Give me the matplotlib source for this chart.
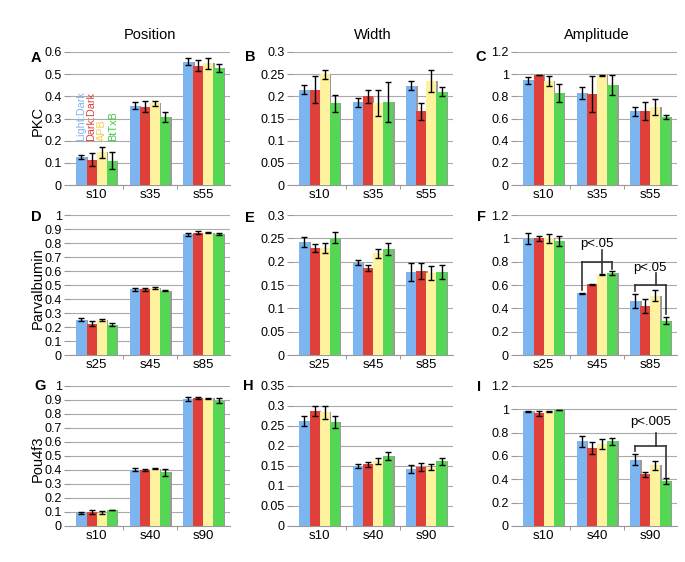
import numpy as np
import matplotlib.pyplot as plt
from matplotlib.ticker import FuncFormatter

plt.rcParams['font.family'] = ['Liberation Sans', 'DejaVu Sans']

groups = ["Light:Dark", "Dark:Dark", "APB", "BtTxB"]
colors = ["#7DB5F0", "#E0403A", "#FFF29E", "#55D655"]

col_titles = ["Position", "Width", "Amplitude"]
row_labels = ["PKC", "Parvalbumin", "Pou4f3"]
letters = ["A", "B", "C", "D", "E", "F", "G", "H", "I"]

cats_pkc = ["s10", "s35", "s55"]
cats_parv = ["s25", "s45", "s85"]
cats_pou = ["s10", "s40", "s90"]

# values [category][group], errors likewise
pkc_pos = [[0.127, 0.114, 0.147, 0.110], [0.358, 0.353, 0.368, 0.307], [0.557, 0.538, 0.550, 0.528]]
pkc_pos_err = [[0.010, 0.030, 0.025, 0.040], [0.015, 0.025, 0.012, 0.022], [0.015, 0.025, 0.025, 0.020]]
pkc_wid = [[0.215, 0.215, 0.250, 0.184], [0.187, 0.200, 0.185, 0.187], [0.224, 0.166, 0.234, 0.210]]
pkc_wid_err = [[0.010, 0.030, 0.010, 0.020], [0.010, 0.015, 0.030, 0.045], [0.010, 0.020, 0.025, 0.010]]
pkc_amp = [[0.943, 0.994, 0.940, 0.830], [0.830, 0.820, 0.990, 0.900], [0.665, 0.665, 0.705, 0.615]]
pkc_amp_err = [[0.030, 0.000, 0.045, 0.080], [0.050, 0.160, 0.005, 0.090], [0.040, 0.080, 0.070, 0.015]]

parv_pos = [[0.253, 0.224, 0.248, 0.217], [0.470, 0.470, 0.477, 0.460], [0.863, 0.875, 0.875, 0.863]]
parv_pos_err = [[0.012, 0.020, 0.008, 0.010], [0.010, 0.012, 0.008, 0.006], [0.012, 0.012, 0.007, 0.006]]
parv_wid = [[0.242, 0.229, 0.229, 0.251], [0.198, 0.187, 0.218, 0.228], [0.178, 0.180, 0.175, 0.178]]
parv_wid_err = [[0.010, 0.008, 0.010, 0.012], [0.005, 0.006, 0.010, 0.013], [0.020, 0.018, 0.015, 0.015]]
parv_amp = [[0.998, 1.000, 1.000, 0.978], [0.530, 0.607, 0.688, 0.702], [0.466, 0.423, 0.510, 0.294]]
parv_amp_err = [[0.050, 0.020, 0.040, 0.045], [0.003, 0.003, 0.005, 0.020], [0.060, 0.060, 0.050, 0.030]]

pou_pos = [[0.095, 0.102, 0.095, 0.114], [0.403, 0.398, 0.410, 0.384], [0.905, 0.917, 0.912, 0.896]]
pou_pos_err = [[0.008, 0.015, 0.010, 0.003], [0.010, 0.006, 0.006, 0.025], [0.015, 0.008, 0.005, 0.020]]
pou_wid = [[0.262, 0.288, 0.284, 0.261], [0.151, 0.154, 0.162, 0.175], [0.143, 0.147, 0.147, 0.162]]
pou_wid_err = [[0.012, 0.013, 0.017, 0.015], [0.005, 0.007, 0.008, 0.010], [0.010, 0.010, 0.008, 0.009]]
pou_amp = [[0.985, 0.965, 0.985, 0.994], [0.725, 0.667, 0.702, 0.725], [0.570, 0.444, 0.520, 0.386]]
pou_amp_err = [[0.005, 0.020, 0.005, 0.000], [0.050, 0.050, 0.040, 0.030], [0.050, 0.020, 0.040, 0.025]]

panels = [
    (cats_pkc, pkc_pos, pkc_pos_err, 0.6, 0.1),
    (cats_pkc, pkc_wid, pkc_wid_err, 0.3, 0.05),
    (cats_pkc, pkc_amp, pkc_amp_err, 1.2, 0.2),
    (cats_parv, parv_pos, parv_pos_err, 1.0, 0.1),
    (cats_parv, parv_wid, parv_wid_err, 0.3, 0.05),
    (cats_parv, parv_amp, parv_amp_err, 1.2, 0.2),
    (cats_pou, pou_pos, pou_pos_err, 1.0, 0.1),
    (cats_pou, pou_wid, pou_wid_err, 0.35, 0.05),
    (cats_pou, pou_amp, pou_amp_err, 1.2, 0.2),
]

W, H = 685, 562
col_x = [70, 293, 517]
col_w = 160
row_box = [(52, 185), (215, 355), (386, 526)]
# panel letter positions in pixels
letter_xy = [(36, 58), (250, 57), (481, 57), (36, 217), (250, 218), (481, 217),
             (40, 386), (248, 386), (479, 387)]

fig = plt.figure(figsize=(W / 100, H / 100), dpi=100)
bw = 0.19
axes = []
for k, (cats, vals, errs, ymax, step) in enumerate(panels):
    r, c = divmod(k, 3)
    top, bot = row_box[r]
    ax = fig.add_axes([col_x[c] / W, 1 - bot / H, col_w / W, (bot - top) / H])
    axes.append(ax)
    vals = np.array(vals)
    errs = np.array(errs)
    x = np.arange(len(cats))
    for g in range(4):
        xs = x + (g - 1.5) * bw
        ax.bar(xs + 0.025, vals[:, g], bw, color="#9a9a9a", zorder=2)
        ax.bar(xs, vals[:, g], bw, color=colors[g], zorder=3)
        ax.errorbar(xs, vals[:, g], yerr=errs[:, g], fmt="none", ecolor="black",
                    elinewidth=1, capsize=2.5, capthick=1, zorder=4)
    ax.set_xlim(-0.5, len(cats) - 0.5)
    ax.set_ylim(0, ymax)
    ax.set_yticks(np.arange(0, ymax + step / 2, step))
    ax.yaxis.set_major_formatter(FuncFormatter(lambda v, p: "%g" % round(v, 3)))
    ax.set_xticks(x)
    ax.set_xticklabels(cats)
    ax.set_xticks([0.5, 1.5], minor=True)
    ax.tick_params(axis="x", which="major", length=0, labelsize=9.5, pad=3)
    ax.tick_params(axis="x", which="minor", length=3, color="#888888")
    ax.tick_params(axis="y", length=4, color="#999999", labelsize=9, pad=2)
    ax.grid(axis="y", color="#aaaaaa", linewidth=0.8, zorder=0)
    for s in ["top", "right", "left"]:
        ax.spines[s].set_visible(False)
    ax.spines["bottom"].set_color("#999999")
    ax.set_axisbelow(True)
    lx, ly = letter_xy[k]
    fig.text(lx / W, 1 - ly / H, letters[k], fontsize=10.5, fontweight="bold",
             ha="center", va="center")

for c in range(3):
    fig.text((col_x[c] + col_w / 2) / W, 1 - 35 / H, col_titles[c], ha="center", va="center", fontsize=10.5)
for r in range(3):
    top, bot = row_box[r]
    fig.text(38 / W, 1 - ((top + bot) / 2 + 3) / H, row_labels[r], rotation=90,
             ha="center", va="center", fontsize=10.5)

# legend written vertically in panel A
ax = axes[0]
legend_colors = ["#7DB5F0", "#E0403A", "#F2D24A", "#3FC83F"]
for g in range(4):
    ax.text(0 + (g - 1.5) * 0.2, 0.2, groups[g], color=legend_colors[g],
            rotation=90, ha="center", va="bottom", fontsize=7.8, zorder=5)


def bracket(ax, cat, drops, yline, ystem, label, ylabel):
    xs = [cat + (g - 1.5) * bw for g in range(4)]
    ax.plot([xs[0], xs[3]], [yline, yline], color="#333333", lw=1.2, zorder=5, clip_on=False)
    for g, yd in drops:
        ax.plot([xs[g], xs[g]], [yline, yd], color="#333333", lw=1.2, zorder=5)
    ax.plot([cat + 0.1, cat + 0.1], [yline, ystem], color="#333333", lw=1.2, zorder=5)
    ax.text(cat, ylabel, label, ha="center", va="center", fontsize=9.5, zorder=5)


bracket(axes[5], 1, [(0, 0.56), (2, 0.70), (3, 0.74)], 0.80, 0.9, "p<.05", 0.95)
bracket(axes[5], 2, [(0, 0.55), (3, 0.35)], 0.60, 0.70, "p<.05", 0.75)
bracket(axes[8], 2, [(0, 0.64), (3, 0.42)], 0.69, 0.80, "p<.005", 0.89)

fig.savefig("out.png", dpi=100)
